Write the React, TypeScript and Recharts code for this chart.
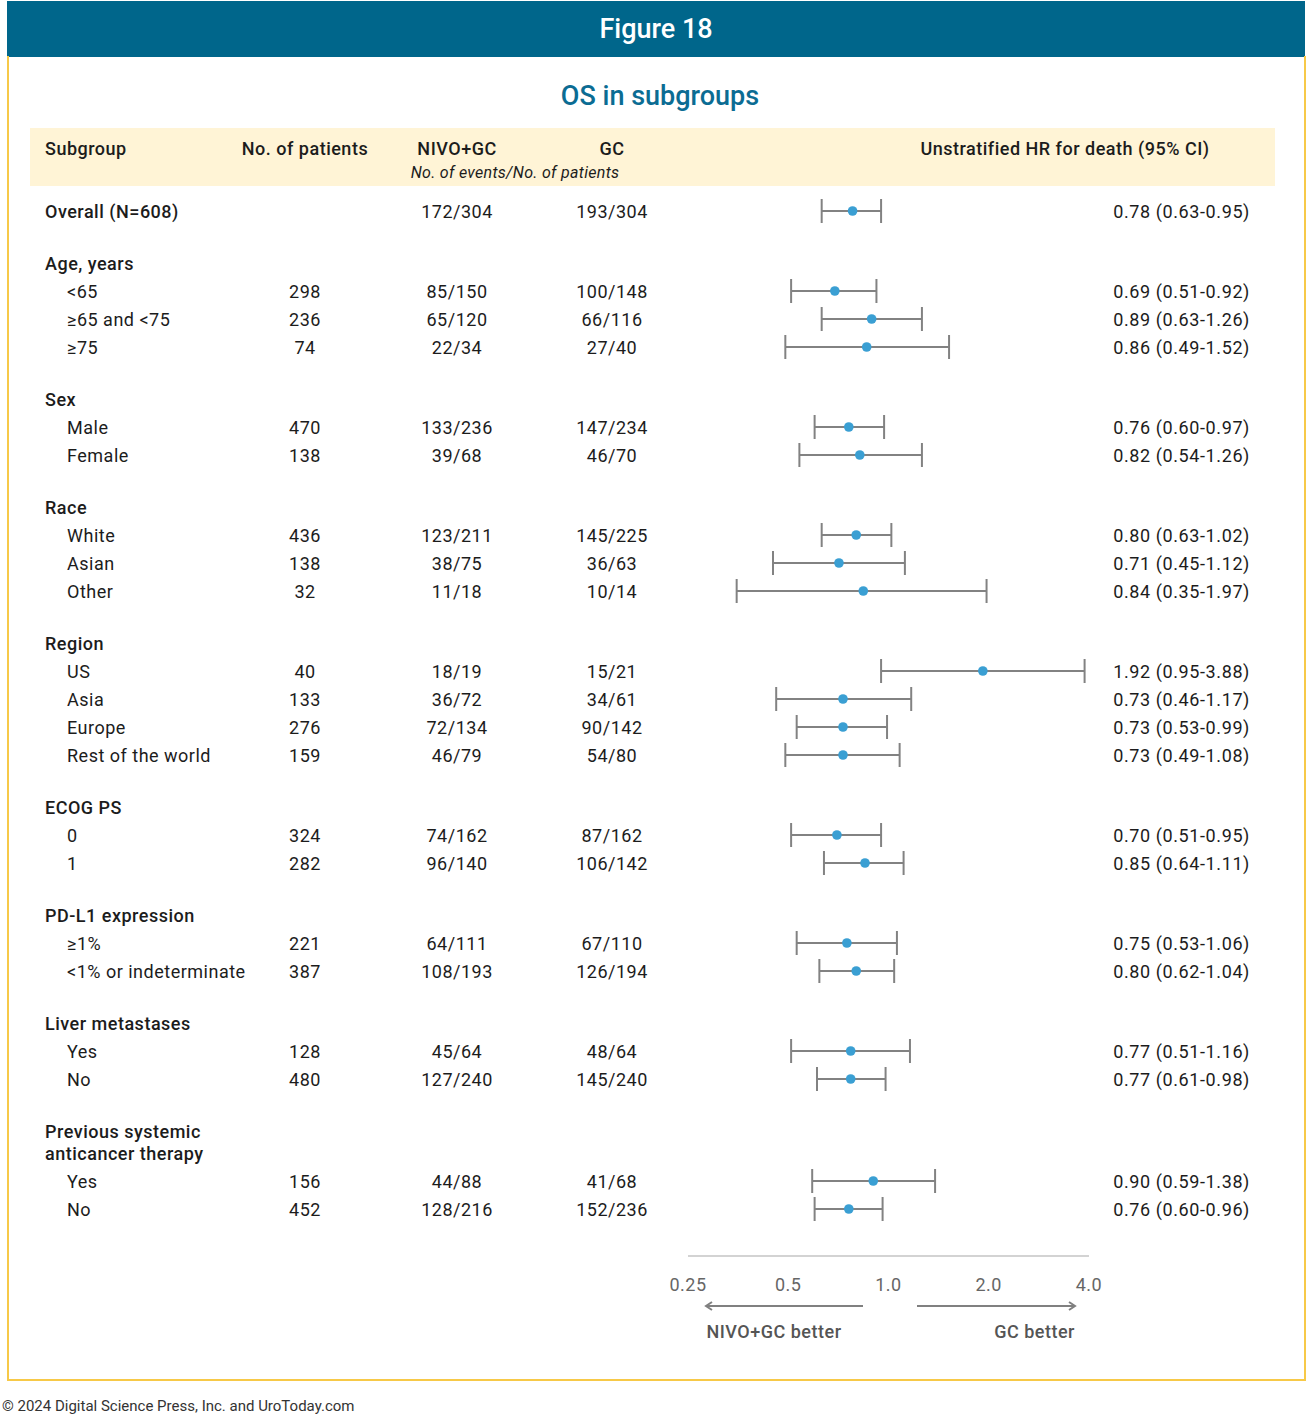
import React from "react";
import { ErrorBar, Scatter, ScatterChart, XAxis, YAxis } from "recharts";

// Subgroup sections (heading + number of rows beneath it)
const sectionTitles = [
  "Age, years",
  "Sex",
  "Race",
  "Region",
  "ECOG PS",
  "PD-L1 expression",
  "Liver metastases",
  "Previous systemic\nanticancer therapy",
];
const sectionSizes = [3, 2, 3, 4, 2, 2, 2, 2];

// Row 0 is the overall population, the rest follow the sections in order
const rowLabels = [
  "Overall (N=608)",
  "<65", "≥65 and <75", "≥75",
  "Male", "Female",
  "White", "Asian", "Other",
  "US", "Asia", "Europe", "Rest of the world",
  "0", "1",
  "≥1%", "<1% or indeterminate",
  "Yes", "No",
  "Yes", "No",
];
const patients = [
  "", "298", "236", "74", "470", "138", "436", "138", "32", "40", "133",
  "276", "159", "324", "282", "221", "387", "128", "480", "156", "452",
];
const nivoEvents = [
  "172/304", "85/150", "65/120", "22/34", "133/236", "39/68", "123/211",
  "38/75", "11/18", "18/19", "36/72", "72/134", "46/79", "74/162", "96/140",
  "64/111", "108/193", "45/64", "127/240", "44/88", "128/216",
];
const gcEvents = [
  "193/304", "100/148", "66/116", "27/40", "147/234", "46/70", "145/225",
  "36/63", "10/14", "15/21", "34/61", "90/142", "54/80", "87/162", "106/142",
  "67/110", "126/194", "48/64", "145/240", "41/68", "152/236",
];
const hr = [
  0.78, 0.69, 0.89, 0.86, 0.76, 0.82, 0.8, 0.71, 0.84, 1.92, 0.73, 0.73, 0.73,
  0.7, 0.85, 0.75, 0.8, 0.77, 0.77, 0.9, 0.76,
];
const ciLow = [
  0.63, 0.51, 0.63, 0.49, 0.6, 0.54, 0.63, 0.45, 0.35, 0.95, 0.46, 0.53, 0.49,
  0.51, 0.64, 0.53, 0.62, 0.51, 0.61, 0.59, 0.6,
];
const ciHigh = [
  0.95, 0.92, 1.26, 1.52, 0.97, 1.26, 1.02, 1.12, 1.97, 3.88, 1.17, 0.99, 1.08,
  0.95, 1.11, 1.06, 1.04, 1.16, 0.98, 1.38, 0.96,
];
const hrTicks = [0.25, 0.5, 1, 2, 4];

const FONT = "Roboto, 'Noto Sans', sans-serif";
const TEXT = "#1c1c1c";
const W = 1307;
const H = 1416;
const PLOT_LEFT = 688;
const PLOT_RIGHT = 1089;
const AXIS_Y = 1256;

// vertical layout of the table rows (page pixels)
const FIRST_ROW = 211;
const ROW_STEP = 28;
const SECTION_STEP = 52;
const WRAP_STEP = 22;

function layoutRows() {
  const rowY: number[] = [FIRST_ROW];
  const heads: { lines: string[]; y: number }[] = [];
  let y = FIRST_ROW;
  sectionTitles.forEach((title, i) => {
    y += SECTION_STEP;
    const lines = title.split("\n");
    heads.push({ lines, y });
    y += (lines.length - 1) * WRAP_STEP;
    for (let k = 0; k < sectionSizes[i]; k++) {
      y += ROW_STEP;
      rowY.push(y);
    }
  });
  return { rowY, heads };
}

const { rowY, heads } = layoutRows();

const forestData = hr.map((v, i) => ({
  hr: v,
  y: rowY[i],
  err: [v - ciLow[i], ciHigh[i] - v],
}));

function Cell({
  x,
  y,
  text,
  align = "left",
  weight = 400,
  italic = false,
  size = 18,
  color = TEXT,
  width = 300,
  spacing = 0.5,
}: {
  x: number;
  y: number;
  text: string;
  align?: "left" | "center" | "right";
  weight?: number;
  italic?: boolean;
  size?: number;
  color?: string;
  width?: number;
  spacing?: number;
}) {
  const left = align === "left" ? x : align === "center" ? x - width / 2 : x - width;
  return (
    <div
      style={{
        position: "absolute",
        left,
        top: y - 13,
        width,
        height: 28,
        lineHeight: "28px",
        textAlign: align,
        fontSize: size,
        fontWeight: weight,
        fontStyle: italic ? "italic" : "normal",
        letterSpacing: spacing,
        color,
        whiteSpace: "nowrap",
      }}
    >
      {text}
    </div>
  );
}

function Dot(props: any) {
  const { cx, cy } = props;
  return <circle cx={cx} cy={cy} r={4.8} fill="#3a9fd3" />;
}

export default function App() {
  return (
    <div
      style={{
        position: "absolute",
        left: 0,
        top: 0,
        width: W,
        height: H,
        background: "#fff",
        fontFamily: FONT,
        overflow: "hidden",
      }}
    >
      {/* title bar and framed panel */}
      <div
        style={{
          position: "absolute",
          left: 7,
          top: 1,
          width: 1298,
          height: 56,
          background: "#00668b",
        }}
      />
      <div
        style={{
          position: "absolute",
          left: 7,
          top: 56,
          width: 1295,
          height: 1323,
          border: "2px solid #f7c948",
          borderTop: "none",
        }}
      />
      <div
        style={{
          position: "absolute",
          left: 7,
          top: 1,
          width: 1298,
          height: 56,
          lineHeight: "56px",
          textAlign: "center",
          color: "#fff",
          fontSize: 27,
          fontWeight: 500,
        }}
      >
        Figure 18
      </div>
      <div
        style={{
          position: "absolute",
          left: 0,
          top: 79,
          width: 1320,
          height: 34,
          lineHeight: "34px",
          textAlign: "center",
          color: "#0b6c93",
          fontSize: 27,
          fontWeight: 500,
        }}
      >
        OS in subgroups
      </div>

      {/* column header band */}
      <div
        style={{
          position: "absolute",
          left: 30,
          top: 128,
          width: 1245,
          height: 58,
          background: "#fff4d6",
        }}
      />
      <Cell x={45} y={148} text="Subgroup" weight={500} />
      <Cell x={305} y={148} text="No. of patients" weight={500} align="center" />
      <Cell x={457} y={148} text="NIVO+GC" weight={500} align="center" />
      <Cell x={612} y={148} text="GC" weight={500} align="center" />
      <Cell x={515} y={172} text="No. of events/No. of patients" italic size={16} align="center" spacing={0.3} />
      <Cell x={1065} y={148} text="Unstratified HR for death (95% CI)" weight={500} align="center" width={400} />

      {/* section headings */}
      {heads.map((h) =>
        h.lines.map((line, k) => (
          <Cell key={`${h.y}-${k}`} x={45} y={h.y + k * WRAP_STEP} text={line} weight={500} />
        ))
      )}

      {/* table rows */}
      {rowLabels.map((label, i) => (
        <React.Fragment key={i}>
          <Cell x={i === 0 ? 45 : 67} y={rowY[i]} text={label} weight={i === 0 ? 500 : 400} />
          <Cell x={305} y={rowY[i]} text={patients[i]} align="center" />
          <Cell x={457} y={rowY[i]} text={nivoEvents[i]} align="center" />
          <Cell x={612} y={rowY[i]} text={gcEvents[i]} align="center" />
          <Cell
            x={1250}
            y={rowY[i]}
            text={`${hr[i].toFixed(2)} (${ciLow[i].toFixed(2)}-${ciHigh[i].toFixed(2)})`}
            align="right"
            spacing={0.6}
          />
        </React.Fragment>
      ))}

      {/* forest plot */}
      <div style={{ position: "absolute", left: 0, top: 0 }}>
        <ScatterChart
          width={W}
          height={H}
          margin={{ top: 0, left: PLOT_LEFT, right: W - PLOT_RIGHT, bottom: H - AXIS_Y - 40 }}
        >
          <XAxis
            type="number"
            dataKey="hr"
            scale="log"
            domain={[0.25, 4]}
            allowDataOverflow
            ticks={hrTicks}
            tickFormatter={(v: number) => (v < 0.3 ? "0.25" : v.toFixed(1))}
            height={40}
            axisLine={{ stroke: "#d3d3d3", strokeWidth: 2 }}
            tickLine={false}
            tickMargin={16}
            tick={{ fill: "#666", fontSize: 18, fontFamily: FONT, letterSpacing: 0.5 }}
            interval={0}
          />
          <YAxis type="number" dataKey="y" domain={[0, AXIS_Y]} reversed hide />
          <Scatter data={forestData} shape={<Dot />} isAnimationActive={false}>
            <ErrorBar
              dataKey="err"
              direction="x"
              width={12}
              stroke="#828282"
              strokeWidth={2}
              isAnimationActive={false}
            />
          </Scatter>
        </ScatterChart>
      </div>

      {/* direction arrows */}
      <svg
        width={W}
        height={H}
        style={{ position: "absolute", left: 0, top: 0, pointerEvents: "none" }}
      >
        <g stroke="#808080" strokeWidth={2} fill="none">
          <line x1={863} y1={1306} x2={707} y2={1306} />
          <polyline points="712,1302 706,1306 712,1310" />
          <line x1={917} y1={1306} x2={1074} y2={1306} />
          <polyline points="1069,1302 1075,1306 1069,1310" />
        </g>
      </svg>
      <Cell x={774} y={1331} text="NIVO+GC better" weight={500} color="#555" align="center" />
      <Cell x={1075} y={1331} text="GC better" weight={500} color="#555" align="right" />

      <div
        style={{
          position: "absolute",
          left: 2,
          top: 1396,
          height: 20,
          lineHeight: "20px",
          fontSize: 15,
          color: "#333",
          whiteSpace: "nowrap",
        }}
      >
        © 2024 Digital Science Press, Inc. and UroToday.com
      </div>
    </div>
  );
}
